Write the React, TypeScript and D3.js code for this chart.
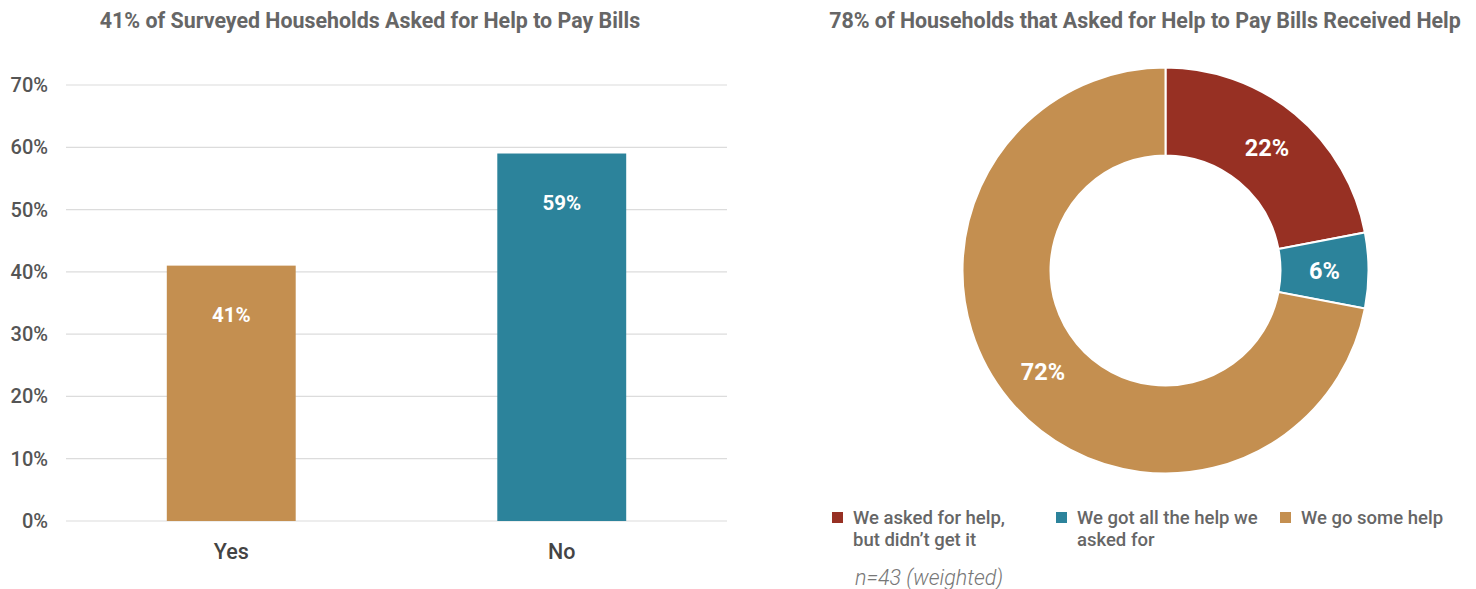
import React from "react";
import * as d3 from "d3";

const barCategories = ["Yes", "No"];
const barValues = [41, 59];
const barColors = ["#C48F50", "#2C839B"];
const yTicks = [0, 10, 20, 30, 40, 50, 60, 70];

const pieLabels = ["We asked for help,|but didn\u2019t get it", "We got all the help we|asked for", "We go some help"];
const pieValues = [22, 6, 72];
const pieColors = ["#973023", "#2C839B", "#C48F50"];

const leftTitle = "41% of Surveyed Households Asked for Help to Pay Bills";
const rightTitle = "78% of Households that Asked for Help to Pay Bills Received Help";
const note = "n=43 (weighted)";

const W = 1476;
const H = 589;
const FONT = "Roboto, 'Noto Sans', sans-serif";

export default function App() {
  const x = d3.scaleBand<string>().domain(barCategories).range([66, 727]).padding(0);
  const y = d3.scaleLinear().domain([0, 70]).range([521, 85]);
  const barW = x.bandwidth() * 0.39;

  const cx = 1165.5;
  const cy = 270.5;
  const outerR = 203;
  const innerR = 115;
  const pie = d3.pie<number>().sort(null).value((d) => d)(pieValues);
  const arc = d3.arc<d3.PieArcDatum<number>>().innerRadius(innerR).outerRadius(outerR);
  const labelArc = d3.arc<d3.PieArcDatum<number>>().innerRadius((innerR + outerR) / 2).outerRadius((innerR + outerR) / 2);

  const legendX = [832, 1056, 1280];

  return (
    <svg width={W} height={H} style={{ position: "absolute", left: 0, top: 0, fontFamily: FONT }}>
      <rect width={W} height={H} fill="#fff" />
      {/* Left chart */}
      <text x={370} y={20} textAnchor="middle" dominantBaseline="central" fontSize={21.4} fontWeight={700} fill="#666">
        {leftTitle}
      </text>
      {yTicks.map((t) => (
        <g key={t}>
          <line x1={66} x2={727} y1={y(t)} y2={y(t)} stroke="#dcdcdc" strokeWidth={1.2} />
          <text x={48} y={y(t)} textAnchor="end" dominantBaseline="central" fontSize={20} fontWeight={500} fill="#555">
            {t}%
          </text>
        </g>
      ))}
      {barCategories.map((c, i) => {
        const cxBar = (x(c) as number) + x.bandwidth() / 2;
        return (
          <g key={c}>
            <rect x={cxBar - barW / 2} y={y(barValues[i])} width={barW} height={y(0) - y(barValues[i])} fill={barColors[i]} />
            <text x={cxBar} y={y(barValues[i]) + 49} textAnchor="middle" dominantBaseline="central" fontSize={20.5} fontWeight={700} fill="#fff">
              {barValues[i]}%
            </text>
            <text x={cxBar} y={551} textAnchor="middle" dominantBaseline="central" fontSize={21.5} fontWeight={500} fill="#444">
              {c}
            </text>
          </g>
        );
      })}

      {/* Right chart */}
      <text x={1145} y={20} textAnchor="middle" dominantBaseline="central" fontSize={21.4} fontWeight={700} fill="#666">
        {rightTitle}
      </text>
      <g transform={`translate(${cx},${cy})`}>
        {pie.map((p, i) => (
          <path key={i} d={arc(p) as string} fill={pieColors[i]} stroke="#fff" strokeWidth={2} />
        ))}
        {pie.map((p, i) => {
          const [lx, ly] = labelArc.centroid(p);
          return (
            <text key={i} x={lx} y={ly} textAnchor="middle" dominantBaseline="central" fontSize={23.5} fontWeight={700} fill="#fff">
              {pieValues[i]}%
            </text>
          );
        })}
      </g>
      {pieLabels.map((l, i) => (
        <g key={i}>
          <rect x={legendX[i]} y={512} width={11} height={11} fill={pieColors[i]} />
          {l.split("|").map((line, j) => (
            <text key={j} x={legendX[i] + 21} y={518 + j * 22} dominantBaseline="central" fontSize={18.5} fontWeight={500} fill="#666">
              {line}
            </text>
          ))}
        </g>
      ))}
      <text x={855} y={577} dominantBaseline="central" fontSize={21.5} fontStyle="italic" fontWeight={300} fill="#777">
        {note}
      </text>
    </svg>
  );
}
